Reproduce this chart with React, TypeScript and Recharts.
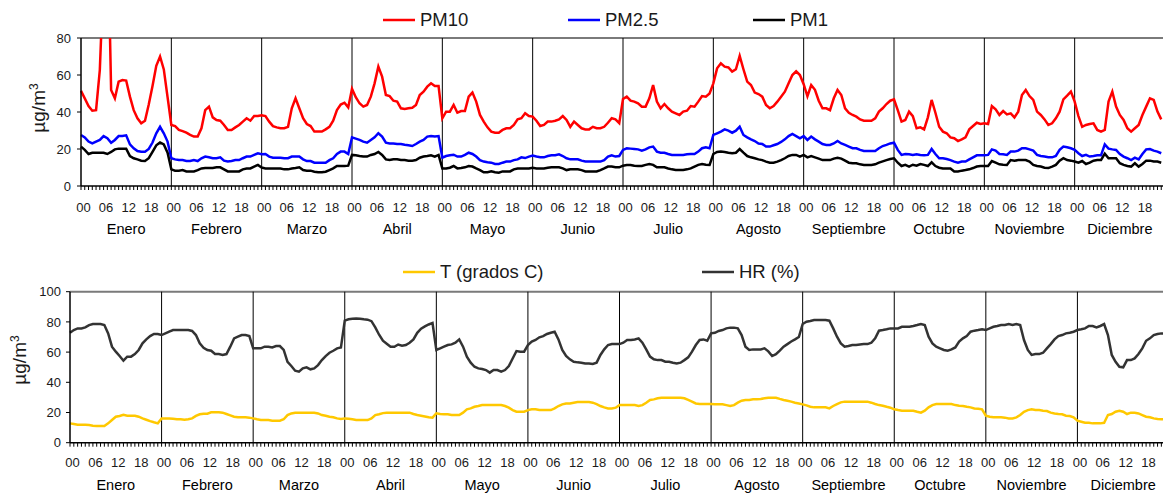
import { LineChart, Line, XAxis, YAxis, ReferenceLine, Legend } from 'recharts'

const MONTHS = ['Enero', 'Febrero', 'Marzo', 'Abril', 'Mayo', 'Junio', 'Julio', 'Agosto', 'Septiembre', 'Octubre', 'Noviembre', 'Diciembre']
const HOUR_LABELS = ['00', '06', '12', '18']
const PM_NAMES = ['PM10', 'PM2.5', 'PM1']
const METEO_NAMES = ['T (grados C)', 'HR (%)']

// hourly means, one row of 24 values per month
const pm10 = [
  [51.4, 47.4, 43.2, 40.7, 41, 62.7, 115, 150, 51.9, 47.4, 56.4, 57.3, 57, 48.3, 41, 36.6, 33.9, 35.3, 44, 54, 65, 70, 63, 48],
  [33, 32.4, 30.3, 29.7, 28.8, 27.6, 26.7, 26.7, 31.2, 41, 42.9, 37.1, 35.7, 35.3, 33, 30.3, 30.3, 31.7, 33, 34.8, 36.6, 35.3, 37.8, 37.8],
  [38.2, 37.8, 34.8, 32.4, 31.7, 31.2, 31.2, 32, 42, 47.4, 42, 36.6, 33.5, 32.4, 29.4, 29.4, 29.4, 30.6, 32, 35.3, 41, 44, 45, 42.5],
  [52.5, 48, 44.7, 42.9, 43.8, 48.3, 55.5, 64.5, 59.1, 49.2, 48.6, 46.1, 45.6, 42, 41.6, 42, 42.3, 43.8, 49.2, 51, 53.7, 55.5, 54, 54],
  [36.6, 40.2, 40.2, 43.8, 39.6, 40.5, 40.5, 48.3, 50.5, 45.6, 38.4, 34.8, 31.7, 29.4, 28.8, 28.8, 30.3, 31.2, 31.2, 33, 36, 36.6, 39.3, 37.8],
  [37.5, 35.3, 32.4, 33, 34.8, 34.8, 35.3, 36, 37.8, 35.7, 32, 34.8, 33, 31.2, 30.6, 30.6, 32, 31.2, 31.2, 32, 34.2, 36.6, 36, 34],
  [47, 48.3, 46.1, 45.6, 44.7, 42.9, 42.9, 47.4, 54.6, 45.6, 42, 44.3, 42, 40.2, 39.3, 38.4, 40.2, 40.7, 43.2, 42.9, 45.6, 48.6, 48.3, 50],
  [55.5, 63.6, 66.3, 64.5, 64.1, 61.8, 63.1, 70.3, 63.1, 56.4, 54.6, 50.5, 49.7, 48.3, 43.8, 42, 43.2, 45.6, 48.3, 51, 55.5, 60, 62, 60],
  [55, 48.5, 54.6, 52, 46.1, 42, 42, 41, 47.4, 51.9, 49.2, 42, 39.6, 38.4, 37.5, 36, 35.3, 35.3, 35.3, 36.6, 40.2, 42, 44.3, 46.1],
  [46.8, 41, 34.8, 35.7, 40.2, 37.8, 31.2, 31.7, 30.6, 37.1, 46.5, 39.6, 32, 29.4, 28.5, 26.3, 25.8, 24.3, 25.2, 26.3, 30.6, 32.4, 34.2, 33.5],
  [33.9, 33.5, 43.2, 41.4, 38.4, 40.5, 38.7, 39.3, 37.1, 40.2, 49.2, 51.9, 48.6, 46.5, 40.2, 38.4, 36, 33, 33.9, 36.6, 40.2, 46.8, 48.8, 51],
  [45.6, 37.8, 32, 33, 33.5, 33.9, 30.3, 29.4, 30.3, 45.6, 51, 42.9, 38.4, 35.7, 31.2, 29.4, 31.2, 33, 38.4, 42.9, 47.4, 46.5, 40.2, 36],
]

const pm25 = [
  [27.6, 26.3, 24, 23, 24, 24.9, 27, 25.8, 23.4, 24.9, 27, 27, 27.4, 22.5, 20.4, 18.9, 18.5, 18.5, 20, 23.5, 28.5, 32, 28.5, 24],
  [15, 14.4, 14, 14, 13.5, 13.5, 14, 13.5, 15, 15.9, 15.5, 15, 15, 15.5, 13.7, 13.2, 13.5, 14, 14, 15, 15.9, 15.9, 16.8, 17.7],
  [17.2, 17.3, 15.9, 15.3, 15.3, 15.3, 15, 15, 15.9, 15.9, 15.9, 14.4, 13.5, 13.5, 12.6, 12.6, 12.6, 12.6, 14, 15, 17.3, 18.6, 18.6, 17.3],
  [26.3, 25.6, 24.9, 24, 23.4, 24.9, 26.3, 28.5, 26.7, 23.4, 23, 23, 22.7, 22.7, 22.3, 22, 21.6, 22.7, 24, 24.9, 26.7, 27, 26.7, 27],
  [15.3, 16.2, 16.6, 16.9, 15.9, 15.9, 16.8, 18, 17.3, 15.9, 14, 13.2, 12.8, 12.6, 11.9, 11.9, 12.6, 13.2, 13.2, 14, 14.4, 15.5, 15.1, 15.9],
  [16.4, 15.9, 15.5, 15.5, 16.2, 16.6, 16.6, 17.1, 16.2, 15, 14.4, 14.4, 14.4, 13.7, 13.2, 13.2, 13.2, 13.2, 13.2, 14, 15.9, 16.6, 15.9, 16.2],
  [19.5, 20.4, 20.2, 20, 19.8, 19.1, 19.8, 20.9, 21.3, 18.6, 18, 18, 17.3, 16.8, 16.8, 16.8, 16.8, 17.1, 17.3, 17.3, 18.6, 20.4, 20.9, 20.4],
  [27.6, 28.5, 29.4, 30.6, 29.9, 28.8, 29.9, 32.1, 27.6, 26.3, 25.2, 24.3, 23, 22.7, 21.3, 21.3, 22, 22.7, 23.8, 25.2, 27, 28.1, 27, 25.8],
  [27, 24.9, 26.7, 25.2, 24, 22.7, 22.2, 22.2, 23, 24.3, 23, 22.2, 21.3, 20.4, 20.4, 19.5, 18.9, 18.9, 18.9, 18.9, 20.4, 21.6, 22.2, 23],
  [23.4, 19.5, 16.8, 17.3, 17.1, 16.8, 17.1, 16.8, 16.6, 16.8, 20, 17.3, 15, 15, 14.6, 14, 13.2, 12.6, 13.2, 13.2, 14.4, 15.5, 16.6, 16.6],
  [16.6, 16.8, 19.8, 19.1, 17.3, 17.1, 16.8, 18.6, 18.6, 19.1, 20.4, 20.4, 19.8, 19.1, 16.8, 16.2, 15.9, 15.5, 15.5, 16.2, 19.5, 21.3, 20.9, 20.4],
  [19.5, 17.7, 16.2, 16.8, 15.9, 16.2, 16.6, 16.6, 22.5, 20.2, 19.8, 19.5, 17.3, 15.9, 15, 14, 15.3, 14.4, 17.3, 19.8, 20, 19.1, 18.6, 17.7],
]

const pm1 = [
  [21.3, 19.5, 17.3, 18, 18, 18, 18, 17.3, 18.4, 19.8, 20.2, 20.2, 20.2, 16.2, 15, 14.4, 13.7, 13.5, 15, 18.5, 22, 23.5, 22.5, 18],
  [9, 8.3, 8.3, 8.6, 7.9, 7.9, 7.9, 8.6, 9.5, 9.7, 9.7, 9.7, 10.1, 10.1, 9, 7.9, 7.9, 7.9, 7.9, 9, 9.5, 9.5, 10.5, 11.4],
  [10, 9.5, 9.5, 9.5, 9.5, 9.5, 9, 9, 9.5, 9.7, 10.1, 8.6, 8.3, 8.3, 7.7, 7.4, 7.4, 7.7, 8.6, 9.5, 10.8, 10.8, 10.8, 11],
  [16.8, 16.6, 16.2, 15.9, 15.9, 16.8, 17.3, 18.4, 16.8, 14.4, 14, 14.4, 14.4, 14, 14, 13.7, 13.7, 14, 15.3, 15.9, 16.2, 16.6, 15.9, 16.8],
  [9.5, 9.5, 9.9, 10.8, 9.5, 9.7, 10.1, 10.8, 10.5, 9.5, 8.6, 7.4, 7.4, 7.9, 7.4, 7.2, 7.9, 7.9, 7.9, 9, 9.5, 9.5, 9.5, 9.5],
  [9.9, 9.5, 9.5, 9.5, 9.9, 10.1, 10.1, 10.1, 9.5, 8.6, 9, 9, 9, 8.6, 7.9, 7.9, 7.9, 7.9, 8.6, 9.5, 10.5, 10.5, 10.1, 10.1],
  [11, 11.4, 11.4, 11, 10.8, 10.8, 11.4, 11.9, 11.4, 10.1, 10.1, 10.1, 9.5, 9, 8.6, 8.6, 8.6, 9, 9.5, 10.5, 11.4, 11.9, 11.5, 11.4],
  [17.3, 18.4, 18.6, 18.4, 18, 17.7, 18, 20, 18, 16.2, 15.5, 15, 14.4, 14, 13.2, 12.6, 12.6, 13.2, 14, 15, 16.2, 16.8, 16.8, 15.9],
  [16.8, 15.5, 16.2, 15.5, 14.8, 14, 14, 14, 14.8, 15.3, 14.8, 13.7, 12.6, 12.3, 12.3, 11.7, 11.4, 11.4, 11.4, 11.7, 12.6, 13.3, 14, 14.6],
  [15, 12.6, 10.8, 11.4, 10.5, 11.5, 11, 11.9, 11.4, 10.8, 12.8, 10.8, 9.9, 9.5, 9.5, 9.5, 7.9, 7.9, 8.3, 8.6, 9, 9.7, 10.5, 10.8],
  [10.8, 10.8, 13.5, 12.6, 11.7, 11.5, 11.4, 14, 13.7, 14, 14, 14, 13.2, 11.4, 10.8, 10.5, 9.9, 9.7, 10.5, 11.4, 13.7, 15, 14, 13.7],
  [13.2, 12.6, 13.5, 11.9, 12.6, 13.7, 14, 14, 17.5, 15, 15, 15, 12.3, 11.4, 10.8, 10.5, 12.3, 10.5, 11.9, 13.7, 13.7, 13.2, 13.2, 12.6],
]

const temperature = [
  [12.8, 12.4, 11.9, 11.9, 11.9, 11.7, 11.3, 11, 11, 11, 12.8, 15, 17.2, 17.7, 18.5, 17.9, 17.9, 17.9, 17.2, 16.1, 15.2, 14.3, 13.5, 12.8],
  [16.1, 16.1, 16.1, 15.9, 15.5, 15.5, 15.2, 15.5, 16.1, 17.7, 18.8, 19.2, 19.2, 20.1, 20.1, 20.1, 19.9, 19, 18.1, 17.2, 16.8, 16.8, 16.8, 16.6],
  [16.1, 15.5, 15, 15, 15, 14.6, 14.6, 14.6, 15.5, 18.3, 19.4, 19.9, 19.9, 19.9, 19.9, 19.9, 19.9, 19.4, 18.3, 17.9, 17.2, 16.8, 16.1, 15.7],
  [16.1, 15.9, 15.5, 15, 15, 15, 15, 16.1, 18.3, 18.8, 19.6, 19.9, 19.9, 19.9, 19.9, 19.9, 19.9, 19.9, 19, 18.3, 17.9, 17.4, 16.9, 16.6],
  [19.5, 19, 18.8, 18.8, 18.3, 18.3, 18.3, 19.9, 22.1, 22.7, 23.8, 24.3, 24.9, 24.9, 24.9, 24.9, 24.9, 24.9, 24.3, 23.2, 21.6, 20.5, 20.5, 20.5],
  [21.6, 22.1, 22.1, 21.6, 21.6, 21.6, 21.6, 22.7, 24.3, 25.4, 26, 26, 26.5, 26.9, 26.9, 26.9, 26.9, 26.5, 25.6, 24.3, 23.4, 22.7, 22.7, 23.2],
  [24.9, 24.9, 24.9, 24.9, 24.9, 24.3, 24.9, 26.5, 28.3, 28.7, 29.4, 29.8, 29.8, 29.8, 29.8, 29.8, 29.8, 29.4, 28.3, 27.2, 26, 25.6, 25.6, 25.6],
  [25.6, 25.4, 25.4, 25.4, 24.9, 24.3, 24.9, 26.5, 27.8, 28.3, 28.3, 28.7, 28.7, 29, 29.4, 29.8, 29.8, 29.8, 29, 28.3, 27.8, 27.2, 26.5, 26],
  [25.4, 24.7, 23.8, 23.4, 23.4, 23.4, 23.4, 22.7, 24.3, 25.6, 26.7, 27.2, 27.2, 27.2, 27.2, 27.2, 27.2, 27.2, 26.5, 25.6, 24.9, 24.5, 23.8, 23.2],
  [22.1, 21.6, 21.2, 21.2, 21.2, 21.2, 20.5, 19.9, 21.2, 23.4, 24.9, 25.6, 25.6, 25.6, 25.6, 25.6, 24.9, 24.5, 24.3, 23.8, 23.4, 22.7, 22.5, 22.1],
  [17.9, 17.2, 16.8, 16.8, 16.8, 16.6, 16.1, 16.1, 16.8, 18.3, 20.5, 21.6, 22.1, 21.6, 21.6, 21.2, 21, 19.9, 19.4, 19, 18.8, 17.9, 17.7, 16.8],
  [14.6, 13.9, 13.2, 13.2, 12.8, 12.8, 12.8, 13.2, 18.3, 19, 20.5, 21.2, 20.5, 19, 19.9, 19.9, 19.4, 18.3, 17.2, 16.8, 16.1, 15.7, 15.5, 15.5],
]

const humidity = [
  [72.8, 74.6, 75.7, 75.7, 76.4, 77.9, 78.6, 78.6, 78.6, 77.9, 72.4, 63.6, 60.3, 57.4, 54.3, 57, 57, 58.7, 61.4, 65.8, 68.4, 70.6, 72, 72],
  [71.3, 72.4, 73.5, 74.6, 74.6, 74.6, 74.6, 74.6, 74, 71.3, 65.8, 62.9, 61.4, 60.9, 58.7, 58.7, 58.1, 58.7, 63.6, 69.1, 70.2, 71.3, 71.3, 70.6],
  [62.5, 62.5, 62.5, 63.6, 63.6, 63.1, 64, 64, 61.4, 53.6, 50.8, 47.7, 47, 49.2, 49.9, 48.6, 49.2, 51.4, 54.7, 57.4, 59.6, 60.9, 62.5, 63.1],
  [80.8, 81.7, 82.1, 82.3, 82.1, 81.7, 81.5, 80.5, 76.4, 71.5, 67.5, 65.5, 63.5, 63.5, 65, 64.2, 64.7, 66.2, 68.4, 72.8, 75.5, 77, 78.3, 79.3],
  [61.4, 62.5, 63.6, 64.7, 65.1, 66.2, 68.4, 63.6, 57, 53, 50.3, 49.2, 48.8, 48.1, 46.4, 48.1, 48.1, 47, 48.1, 50.8, 55.8, 60.7, 60.3, 60.3],
  [64.7, 66.9, 68, 69.8, 70.6, 72, 72.8, 73.5, 68.4, 61.4, 57.4, 55.2, 53.6, 53.2, 53, 52.5, 52.5, 52.1, 53, 58.1, 61.8, 64.7, 65.3, 65.3],
  [65.3, 66.2, 68, 68, 68.4, 69.1, 66.2, 61.8, 57, 55.2, 54.7, 54.7, 53.6, 53.6, 53, 52.5, 53, 54.7, 56.5, 60.3, 64.7, 68, 68.4, 67.5],
  [72.4, 72.8, 74, 74.6, 75.7, 76.2, 76.2, 75.7, 71.3, 63.6, 61.4, 61.8, 61.8, 61.8, 62.5, 60.5, 57.4, 58.6, 61, 63.6, 65.3, 67, 68.4, 70],
  [78.6, 80.1, 80.6, 81.2, 81.2, 81.2, 81.2, 80.8, 75.7, 70.2, 65.8, 63.6, 64, 64.7, 64.7, 65.1, 65.3, 65.3, 66.2, 69.1, 74.2, 74.6, 75.1, 75.7],
  [75.7, 75.7, 76.8, 76.8, 76.8, 77.3, 77.9, 78.6, 77.9, 70.2, 65.8, 63.6, 62.5, 61.4, 60.9, 61.8, 63.1, 66.9, 69.1, 70.6, 73.5, 74.2, 74.6, 75.1],
  [74.6, 75.7, 76.8, 77.3, 77.9, 77.9, 78.6, 77.9, 78.6, 77.9, 68, 61.4, 58.1, 58.7, 58.7, 59.6, 62.5, 65.3, 68.4, 70.6, 71.3, 72.4, 72.8, 73.5],
  [74.6, 75.1, 75.7, 77.3, 77.3, 76.4, 77.3, 78.6, 71.3, 58.1, 53.6, 50.3, 49.9, 54.7, 54.7, 55.8, 58.7, 62.5, 67.5, 69.1, 71.3, 72, 72.4, 72.4],
]

type Row = { i: number } & Record<string, number>

function buildRows(series: Record<string, number[][]>): Row[] {
  const rows: Row[] = []
  for (let m = 0; m < 12; m++) {
    for (let h = 0; h < 24; h++) {
      const row = { i: m * 24 + h } as Row
      for (const key of Object.keys(series)) row[key] = series[key][m][h]
      rows.push(row)
    }
  }
  return rows
}

const pmRows = buildRows({ pm10, pm25, pm1 })
const meteoRows = buildRows({ temperature, humidity })

const HOUR_TICKS = Array.from({ length: 288 }, (_, i) => i)
const MONTH_STARTS = Array.from({ length: 11 }, (_, m) => (m + 1) * 24)

const FONT = '"Liberation Sans", Arial, sans-serif'
const INK = '#1a1a1a'

function HourTick(props: any) {
  const { x, y, payload, hourDy, monthDy } = props
  const i = Math.round(payload.value)
  const h = i % 24
  return (
    <g>
      <line x1={x} x2={x} y1={y} y2={y + 4} stroke="#000" strokeWidth={1} />
      {h % 6 === 0 && (
        <text x={x + 2.5} y={y + hourDy} textAnchor="middle" fontSize={13} fill={INK}>
          {HOUR_LABELS[h / 6]}
        </text>
      )}
      {h === 12 && (
        <text x={x} y={y + monthDy} textAnchor="middle" fontSize={14.5} fill="#000">
          {MONTHS[(i - 12) / 24]}
        </text>
      )}
    </g>
  )
}

function UnitLabel({ cx, cy }: { cx: number; cy: number }) {
  return (
    <text transform={`translate(${cx},${cy}) rotate(-90)`} textAnchor="middle" fontSize={19} fill={INK}>
      µg/m<tspan fontSize={12} dy={-7}>3</tspan>
    </text>
  )
}

// legend items kept in series order rather than sorted by name
function LegendRow({ payload, order, left, step }: any) {
  const items = [...(payload ?? [])].sort((a: any, b: any) => order.indexOf(a.value) - order.indexOf(b.value))
  return (
    <div style={{ position: 'relative', height: 24, width: 1163 }}>
      {items.map((p: any, k: number) => (
        <div key={p.value} style={{ position: 'absolute', left: left + k * step, top: 0, display: 'flex', alignItems: 'center', height: 24 }}>
          <svg width={32} height={4} style={{ display: 'block' }}>
            <line x1={0} x2={32} y1={2} y2={2} stroke={p.color} strokeWidth={2.5} />
          </svg>
          <span style={{ marginLeft: 5, fontSize: 18.5, color: INK, fontFamily: FONT, whiteSpace: 'nowrap' }}>{p.value}</span>
        </div>
      ))}
    </div>
  )
}

export default function App() {
  return (
    <div style={{ position: 'absolute', left: 0, top: 0, width: 1163, height: 494, overflow: 'hidden', background: '#fff', fontFamily: FONT }}>
      <div style={{ position: 'absolute', left: 0, top: 0 }}>
        <LineChart width={1165} height={246} data={pmRows} margin={{ top: 38, right: 0, bottom: 0, left: 0 }}>
          <XAxis
            type="number"
            dataKey="i"
            domain={[0, 288]}
            ticks={HOUR_TICKS}
            interval={0}
            height={60}
            tickLine={false}
            tickSize={0}
            tickMargin={0}
            axisLine={{ stroke: '#000', strokeWidth: 1.5 }}
            tick={(p: any) => <HourTick {...p} hourDy={25.5} monthDy={48} />}
          />
          <YAxis
            domain={[0, 80]}
            ticks={[0, 20, 40, 60, 80]}
            allowDataOverflow
            width={81}
            tickSize={4}
            tickMargin={6}
            axisLine={{ stroke: '#000', strokeWidth: 1.5 }}
            tickLine={{ stroke: '#000' }}
            tick={{ fill: INK, fontSize: 13 }}
            label={<UnitLabel cx={45} cy={108} />}
          />
          <Legend
            layout="horizontal"
            align="center"
            verticalAlign="middle"
            wrapperStyle={{ top: 8, left: 0, width: 1163 }}
            content={(p: any) => <LegendRow payload={p.payload} order={PM_NAMES} left={383} step={185} />}
          />
          <ReferenceLine y={80} stroke="#7a7a7a" strokeWidth={2} />
          {MONTH_STARTS.map((x) => (
            <ReferenceLine key={x} x={x} stroke="#000" strokeWidth={1} />
          ))}
          <Line dataKey="pm10" name={PM_NAMES[0]} stroke="#ff0000" strokeWidth={2.5} dot={false} activeDot={false} isAnimationActive={false} />
          <Line dataKey="pm25" name={PM_NAMES[1]} stroke="#0000ff" strokeWidth={2.5} dot={false} activeDot={false} isAnimationActive={false} />
          <Line dataKey="pm1" name={PM_NAMES[2]} stroke="#000000" strokeWidth={2.5} dot={false} activeDot={false} isAnimationActive={false} />
        </LineChart>
      </div>
      <div style={{ position: 'absolute', left: 0, top: 250 }}>
        <LineChart width={1169} height={244} data={meteoRows} margin={{ top: 41.7, right: 0, bottom: 0, left: 0 }}>
          <XAxis
            type="number"
            dataKey="i"
            domain={[0, 288]}
            ticks={HOUR_TICKS}
            interval={0}
            height={51.3}
            tickLine={false}
            tickSize={0}
            tickMargin={0}
            axisLine={{ stroke: '#000', strokeWidth: 1.5 }}
            tick={(p: any) => <HourTick {...p} hourDy={24} monthDy={47.3} />}
          />
          <YAxis
            domain={[0, 100]}
            ticks={[0, 20, 40, 60, 80, 100]}
            width={70}
            tickSize={4}
            tickMargin={5}
            axisLine={{ stroke: '#000', strokeWidth: 1.5 }}
            tickLine={{ stroke: '#000' }}
            tick={{ fill: INK, fontSize: 13 }}
            label={<UnitLabel cx={26} cy={110} />}
          />
          <Legend
            layout="horizontal"
            align="center"
            verticalAlign="middle"
            wrapperStyle={{ top: 10, left: 0, width: 1163 }}
            content={(p: any) => <LegendRow payload={p.payload} order={METEO_NAMES} left={403} step={299} />}
          />
          <ReferenceLine y={100} stroke="#7a7a7a" strokeWidth={2} />
          {MONTH_STARTS.map((x) => (
            <ReferenceLine key={x} x={x} stroke="#000" strokeWidth={1} />
          ))}
          <Line dataKey="temperature" name={METEO_NAMES[0]} stroke="#ffc800" strokeWidth={2.5} dot={false} activeDot={false} isAnimationActive={false} />
          <Line dataKey="humidity" name={METEO_NAMES[1]} stroke="#333333" strokeWidth={2.5} dot={false} activeDot={false} isAnimationActive={false} />
        </LineChart>
      </div>
    </div>
  )
}
